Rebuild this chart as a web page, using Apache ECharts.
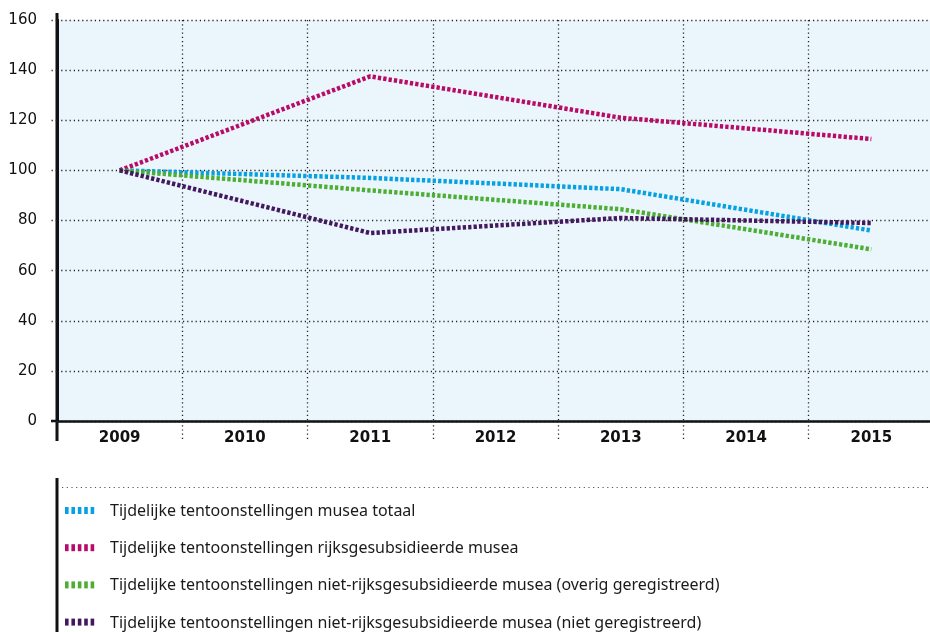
<!DOCTYPE html>
<html><head><meta charset="utf-8">
<script src="https://cdn.jsdelivr.net/npm/echarts@6/dist/echarts.min.js"></script>
<style>html,body{margin:0;padding:0;background:#fff}#c{width:930px;height:632px}</style>
</head><body><div id="c"></div>
<script>
const years = ['2009','2010','2011','2012','2013','2014','2015'];
const yTicks = [0,20,40,60,80,100,120,140,160];
const names = [
  'Tijdelijke tentoonstellingen musea totaal',
  'Tijdelijke tentoonstellingen rijksgesubsidieerde musea',
  'Tijdelijke tentoonstellingen niet-rijksgesubsidieerde musea (overig geregistreerd)',
  'Tijdelijke tentoonstellingen niet-rijksgesubsidieerde musea (niet geregistreerd)'
];
const totaal = [100, null, 97, null, 92.5, null, 76];
const rijks = [100, null, 137.5, null, 121, null, 112.5];
const overig = [100, null, 92, null, 84.5, null, 68.5];
const nietGeregistreerd = [100, null, 75, null, 81, null, 79];
const colors = ['#05a1e3', '#b90a67', '#4caf33', '#43195e'];
const values = [totaal, rijks, overig, nietGeregistreerd];

const dotted = {type: [1.2, 3], width: 1.3, color: '#222'};
const chart = echarts.init(document.getElementById('c'));
chart.setOption({
  animation: false,
  backgroundColor: '#fff',
  grid: {left: 57, top: 20, width: 877, height: 401, backgroundColor: '#ebf5fc', show: true, borderWidth: 0,
    containLabel: false, outerBoundsMode: 'none'},
  xAxis: {
    type: 'category', data: years, boundaryGap: true,
    axisLine: {lineStyle: {color: '#111', width: 2.5}},
    axisTick: {show: true, length: 19, lineStyle: dotted},
    splitLine: {show: true, lineStyle: dotted},
    axisLabel: {color: '#111', fontSize: 15, fontWeight: 'bold', fontFamily: 'DejaVu Sans', margin: 10}
  },
  yAxis: {
    type: 'value', min: 0, max: 160, interval: 20,
    axisLine: {show: true, lineStyle: {color: '#111', width: 3}},
    axisTick: {show: true, length: 6, lineStyle: dotted},
    splitLine: {show: true, lineStyle: dotted},
    axisLabel: {color: '#111', fontSize: 15, fontFamily: 'DejaVu Sans', margin: 20,
      formatter: v => yTicks.includes(v) ? String(v) : ''}
  },
  legend: {
    orient: 'vertical', left: 64, top: 503, height: 140, padding: 0,
    itemWidth: 32, itemHeight: 7, itemGap: 21.4,
    icon: 'rect',
    itemStyle: {opacity: 0}, lineStyle: {opacity: 0, width: 0},
    textStyle: {fontSize: 16, lineHeight: 14, color: '#1a1a1a', fontFamily: 'Noto Sans', padding: [0,0,0,9]},
    data: names.map(n => ({name: n, itemStyle: {color: 'rgba(0,0,0,0)'}}))
  },
  series: values.map((d, i) => ({
    name: names[i], type: 'line', data: d, connectNulls: true,
    symbol: 'none', color: colors[i],
    lineStyle: {color: colors[i], width: 4.5, type: [3.3, 2.1], cap: 'butt'}
  })),
  graphic: [
    {type: 'line', shape: {x1: 57, y1: 13, x2: 57, y2: 441}, style: {stroke: '#111', lineWidth: 3}},
    {type: 'line', shape: {x1: 51, y1: 421, x2: 57, y2: 421}, style: {stroke: '#111', lineWidth: 2.5}},
    {type: 'line', shape: {x1: 57, y1: 478, x2: 57, y2: 632}, style: {stroke: '#111', lineWidth: 3}},
    {type: 'line', shape: {x1: 62, y1: 487.5, x2: 930, y2: 487.5}, style: {stroke: '#555', lineWidth: 1.2, lineDash: [1.2, 3.5]}}
  ].concat(colors.map((c, i) => ({
    type: 'group', left: 65, top: 507 + i * 37.2,
    children: [0,1,2,3,4].map(k => ({type: 'rect', shape: {x: k * 6.4, y: 0, width: 3.6, height: 7}, style: {fill: c}}))
  })))
});
</script></body></html>
